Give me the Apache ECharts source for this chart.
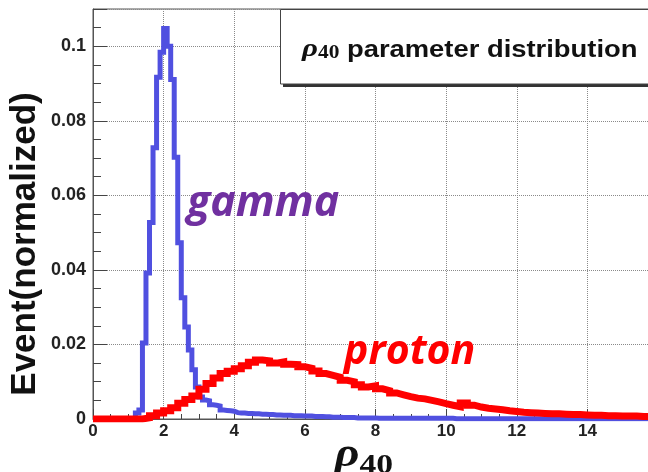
<!DOCTYPE html>
<html><head><meta charset="utf-8">
<script src="https://cdn.jsdelivr.net/npm/echarts@6/dist/echarts.min.js"></script>
<style>html,body{margin:0;padding:0;background:#fff}#c{width:648px;height:472px}</style>
</head><body><div id="c"></div>
<script>
// ---- data (histogram bins: left edge = start + i*width) ----
const gammaBinStart = 0;
const gammaBinWidth = 0.1;
const gammaValues = [
  0,0,0,0,0,0,0,0,0,0,0,0,
  0.0016,0.0024,0.0204,0.0392,0.0527,0.0728,0.0917,0.0984,
  0.1048,0.1000,0.0911,0.0702,0.0473,0.0325,0.0247,0.0185,0.0132,0.0086,
  0.0059,0.0051,0.0049,0.0038,0.0037,0.0035,0.0024,0.0023,0.0022,0.0021,
  0.0017,0.0016,0.0016,0.0015,0.0015,0.0014,0.0014,0.0013,0.0013,0.0012,
  0.0012,0.0011,0.0011,0.0010,0.0010,0.0010,0.0009,0.0009,0.0009,0.0008,
  0.0008,0.0008,0.0007,0.0007,0.0007,0.0006,0.0006,0.0005,0.0005,0.0005,
  0.0004,0.0004,0.0004,0.0004,0.0003,0.0003,0.0003,0.0003,0.0003,0.0003,
  0.0002,0.0002,0.0002,0.0002,0.0002,0.0002,0.0002,0.0002,0.0002,0.0002,
  0.0002,0.0002,0.0002,0.0002,0.0002,0.0002,0.0002,0.0002,0.0002,0.0002,
  0.0002,0.0002,0.0001,0.0001,0.0001,0.0001,0.0001,0.0001,0.0001,0.0001,
  0.0001,0.0001,0.0001,0.0001,0.0001,0.0001,0.0001,0.0001,0.0001,0.0001,
  0.0001,0.0001,0.0001,0.0001,0.0001,0.0001,0.0001,0.0001,0.0001,0.0001,
  0.0001,0.0001,0.0001,0.0001,0.0001,0.0001,0.0001,0.0001,0.0001,0.0001,
  0.0001,0.0001,0.0001,0.0001,0.0001,0.0001,0.0001,0.0001,0.0001,0.0001,
  0.0001,0.0001,0.0001,0.0001,0.0001,0.0001,0.0001,0.0001,0.0001,0.0001
];
const protonBinStart = 0;
const protonBinWidth = 0.2;
const protonValues = [
  0,0,0,0,0,0,0,
  0.0003,0.0009,0.0016,0.0022,0.0030,0.0042,0.0052,0.0062,
  0.0080,0.0095,0.0110,0.0122,0.0128,0.0135,0.0143,0.0152,0.0158,0.0156,
  0.0150,0.0153,0.0147,0.0146,0.0140,0.0136,0.0129,0.0122,0.0117,0.0112,
  0.0104,0.0100,0.0092,0.0086,0.0089,0.0081,0.0076,0.0070,0.0065,0.0060,
  0.0056,0.0054,0.0050,0.0046,0.0041,0.0037,0.0033,0.0043,0.0037,0.0032,
  0.0029,0.0027,0.0025,0.0022,0.0020,0.0018,0.0017,0.0016,0.0015,0.0014,
  0.0014,0.0013,0.0012,0.0012,0.0011,0.0010,0.0010,0.0009,0.0009,0.0008,
  0.0008,0.0008,0.0007,0.0007,0.0007
];
const xRange = [0, 16];
const xTickStep = 2;
const yRange = [0, 0.11];
const yTickStep = 0.02;
const titleText = ' parameter distribution';
const yTitle = 'Event(normalized)';
const gammaLabel = 'gamma';
const protonLabel = 'proton';

function histPoints(start, width, values) {
  const pts = values.map((v, i) => [+(start + i * width).toFixed(4), v]);
  pts.push([+(start + values.length * width).toFixed(4), values[values.length - 1]]);
  return pts;
}

const chart = echarts.init(document.getElementById('c'), null, {renderer: 'canvas'});
const sans = 'Liberation Sans';
const serif = 'Liberation Serif';
const axisColor = '#555';

chart.setOption({
  animation: false,
  backgroundColor: '#fff',
  grid: {left: 93, top: 9, right: -10, bottom: 53, show: true, borderColor: axisColor, borderWidth: 1,
         containLabel: false, outerBoundsMode: 'none'},
  xAxis: {
    type: 'value', min: xRange[0], max: xRange[1], interval: xTickStep,
    axisLine: {show: true, lineStyle: {color: axisColor, width: 1}},
    axisTick: {show: true, inside: true, length: 10, lineStyle: {color: '#444'}},
    minorTick: {show: true, splitNumber: 4, length: 5, lineStyle: {color: '#444'}},
    splitLine: {show: true, lineStyle: {type: 'dotted', color: '#8a8a8a', width: 1}},
    axisLabel: {fontFamily: sans, fontWeight: 'bold', fontSize: 17, color: '#222', margin: 4}
  },
  yAxis: {
    type: 'value', min: yRange[0], max: yRange[1], interval: yTickStep,
    axisLine: {show: true, lineStyle: {color: axisColor, width: 1}},
    axisTick: {show: true, inside: true, length: 14, lineStyle: {color: '#444'}},
    minorTick: {show: true, splitNumber: 4, length: 8, lineStyle: {color: '#444'}},
    splitLine: {show: true, lineStyle: {type: 'dotted', color: '#8a8a8a', width: 1}},
    axisLabel: {fontFamily: sans, fontWeight: 'bold', fontSize: 18, color: '#222', margin: 7,
                showMaxLabel: false, formatter: v => String(+v.toFixed(3))}
  },
  series: [
    {name: 'gamma', type: 'line', step: 'end', data: histPoints(gammaBinStart, gammaBinWidth, gammaValues),
     symbol: 'none', showSymbol: false, z: 3,
     lineStyle: {color: '#5050e0', width: 5, join: 'miter'}},
    {name: 'proton', type: 'line', step: 'end', data: histPoints(protonBinStart, protonBinWidth, protonValues),
     symbol: 'none', showSymbol: false, z: 4,
     lineStyle: {color: '#ff0000', width: 7, join: 'miter'}}
  ],
  graphic: [
    {type: 'rect', silent: true, z: 100, shape: {x: 283, y: 12, width: 420, height: 75}, style: {fill: '#333'}},
    {type: 'rect', silent: true, z: 101, shape: {x: 280.5, y: 9.5, width: 420, height: 74.5},
     style: {fill: '#fff', stroke: '#444', lineWidth: 1}},
    {type: 'text', silent: true, z: 102, x: 302, y: 49, scaleX: 1.19,
     style: {text: '{r|ρ}{s|40}{t|' + titleText + '}', verticalAlign: 'middle', align: 'left',
       rich: {
         r: {fontFamily: serif, fontStyle: 'italic', fontWeight: 'bold', fontSize: 26, fill: '#111', verticalAlign: 'bottom'},
         s: {fontFamily: serif, fontWeight: 'bold', fontSize: 18, fill: '#111', verticalAlign: 'bottom'},
         t: {fontFamily: sans, fontWeight: 'bold', fontSize: 23, fill: '#111', verticalAlign: 'bottom'}
       }}},
    {type: 'text', silent: true, z: 102, x: 187, y: 204,
     style: {text: gammaLabel, fontFamily: 'Open Sans', fontStyle: 'italic', fontWeight: 'bold', fontSize: 43,
             fill: '#7030a0', verticalAlign: 'middle'}},
    {type: 'text', silent: true, z: 102, x: 344, y: 352,
     style: {text: protonLabel, fontFamily: 'Open Sans', fontStyle: 'italic', fontWeight: 'bold', fontSize: 41,
             fill: '#ff0000', verticalAlign: 'middle'}},
    {type: 'text', silent: true, z: 102, x: 25, y: 244, rotation: Math.PI / 2,
     style: {text: yTitle, fontFamily: sans, fontWeight: 'bold', fontSize: 35, fill: '#111',
             align: 'center', verticalAlign: 'middle'}},
    {type: 'text', silent: true, z: 102, x: 364, y: 456, scaleX: 1.2,
     style: {text: '{r|ρ}{s|40}', align: 'center', verticalAlign: 'middle',
       rich: {
         r: {fontFamily: serif, fontStyle: 'italic', fontWeight: 'bold', fontSize: 40, fill: '#111', verticalAlign: 'bottom'},
         s: {fontFamily: serif, fontWeight: 'bold', fontSize: 28, fill: '#111', verticalAlign: 'bottom', padding: [0, 0, -4, 0]}
       }}}
  ]
});
</script></body></html>
